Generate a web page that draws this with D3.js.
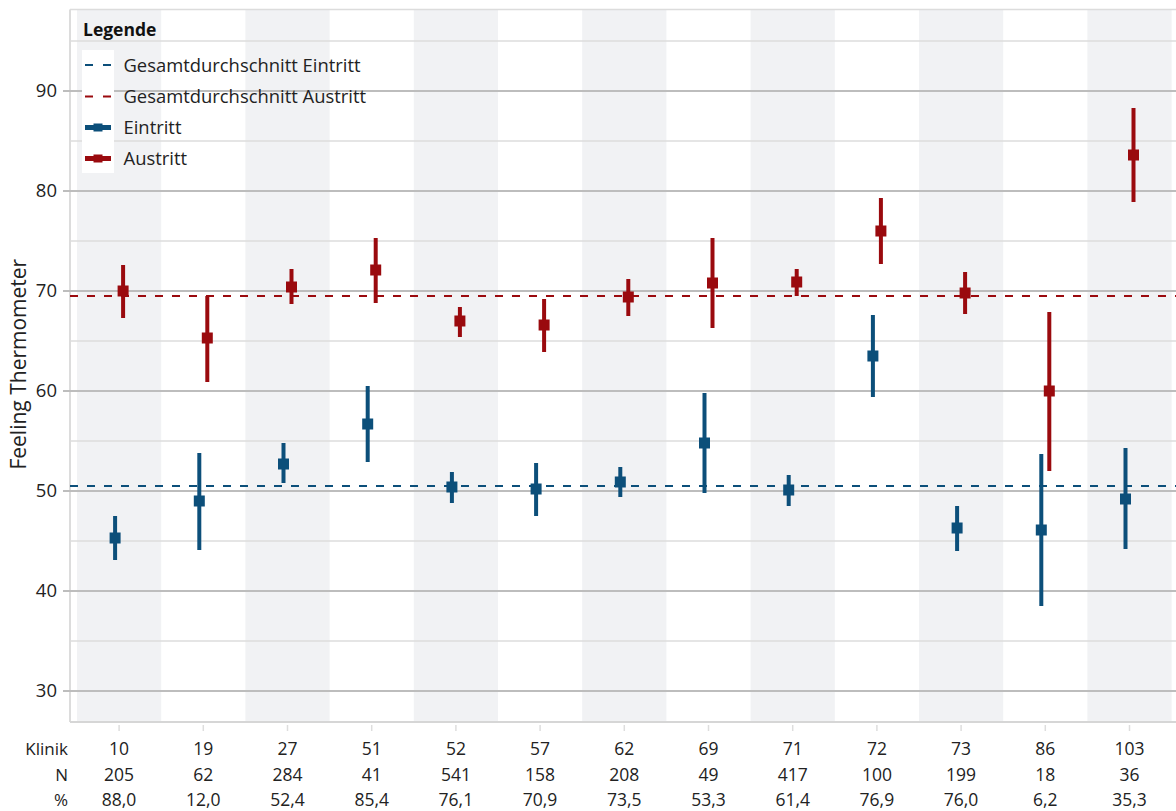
<!DOCTYPE html>
<html><head><meta charset="utf-8">
<script src="https://cdn.jsdelivr.net/npm/d3@7/dist/d3.min.js"></script>
<style>
html,body{margin:0;padding:0;background:#fff;}
svg{display:block;font-family:"Open Sans","Noto Sans",sans-serif;}
</style></head>
<body>
<svg id="chart" width="1176" height="811"></svg>
<script>
const clinics = ["10","19","27","51","52","57","62","69","71","72","73","86","103"];
const nValues = [205,62,284,41,541,158,208,49,417,100,199,18,36];
const pctValues = [88.0,12.0,52.4,85.4,76.1,70.9,73.5,53.3,61.4,76.9,76.0,6.2,35.3];
const eintrittMean = [45.3,49.0,52.7,56.7,50.4,50.2,50.9,54.8,50.1,63.5,46.3,46.1,49.2];
const eintrittLow  = [43.1,44.1,50.8,52.9,48.8,47.5,49.4,49.8,48.5,59.4,44.0,38.5,44.2];
const eintrittHigh = [47.5,53.8,54.8,60.5,51.9,52.8,52.4,59.8,51.6,67.6,48.5,53.7,54.3];
const austrittMean = [70.0,65.3,70.4,72.1,67.0,66.6,69.4,70.8,70.9,76.0,69.8,60.0,83.6];
const austrittLow  = [67.3,60.9,68.7,68.8,65.4,63.9,67.5,66.3,69.5,72.7,67.7,52.0,78.9];
const austrittHigh = [72.6,69.5,72.2,75.3,68.4,69.2,71.2,75.3,72.2,79.3,71.9,67.9,88.3];
const avgEintritt = 50.5;
const avgAustritt = 69.5;
const majorTicks = [30,40,50,60,70,80,90];
const minorTicks = [35,45,55,65,75,85,95];
const legendItems = ["Gesamtdurchschnitt Eintritt","Gesamtdurchschnitt Austritt","Eintritt","Austritt"];

const BLUE = "#0c4f7a", RED = "#9a0a0e";
const W = 1176, H = 811;
const plotL = 70, plotT = 9.5, plotB = 722, plotR = W;

const svg = d3.select("#chart");
const x = d3.scaleBand().domain(clinics).range([77, 1171.6]).padding(0);
const y = d3.scaleLinear().domain([26.9, 98.15]).range([plotB, plotT]);
const locale = d3.formatLocale({decimal: ",", thousands: ".", grouping: [3], currency: ["", "€"]});
const fmtPct = locale.format(".1f");

// alternating bands
svg.append("g").selectAll("rect").data(clinics.filter((d,i)=>i%2===0)).join("rect")
  .attr("x", d=>x(d)).attr("y", plotT).attr("width", x.bandwidth()).attr("height", plotB-plotT)
  .attr("fill", "#f1f2f4");

// borders
svg.append("line").attr("x1", plotL).attr("x2", plotR).attr("y1", plotT).attr("y2", plotT)
  .attr("stroke", "#dcdcdc").attr("stroke-width", 1.5);
svg.append("line").attr("x1", plotL).attr("x2", plotL).attr("y1", plotT).attr("y2", plotB)
  .attr("stroke", "#dcdcdc").attr("stroke-width", 2);

// minor gridlines
svg.append("g").selectAll("line").data(minorTicks).join("line")
  .attr("x1", plotL).attr("x2", plotR).attr("y1", d=>y(d)).attr("y2", d=>y(d))
  .attr("stroke", "#dcdcdc").attr("stroke-width", 1.5);
// major gridlines
svg.append("g").selectAll("line").data(majorTicks).join("line")
  .attr("x1", 63).attr("x2", plotR).attr("y1", d=>y(d)).attr("y2", d=>y(d))
  .attr("stroke", "#bdbdbd").attr("stroke-width", 2);

// bottom axis line
svg.append("line").attr("x1", plotL).attr("x2", plotR).attr("y1", plotB).attr("y2", plotB)
  .attr("stroke", "#d6d6d6").attr("stroke-width", 2);
svg.append("g").selectAll("line").data(clinics).join("line")
  .attr("x1", d=>x(d)+x.bandwidth()/2).attr("x2", d=>x(d)+x.bandwidth()/2)
  .attr("y1", plotB+3).attr("y2", plotB+9).attr("stroke", "#dddddd").attr("stroke-width", 1.5);

// y labels
svg.append("g").selectAll("text").data(majorTicks).join("text")
  .attr("x", 57).attr("y", d=>y(d)).attr("dy", "0.35em").attr("text-anchor", "end")
  .attr("font-size", 18.5).attr("fill", "#222").text(d=>d);

svg.append("text").attr("transform", `translate(25.5,${(261.7+466.7)/2}) rotate(-90)`)
  .attr("text-anchor", "middle").attr("font-size", 21).attr("fill", "#222").text("Feeling Thermometer");

// average dashed lines
[[avgEintritt, BLUE],[avgAustritt, RED]].forEach(([v,c])=>{
  svg.append("line").attr("x1", plotL).attr("x2", plotR).attr("y1", y(v)).attr("y2", y(v))
    .attr("stroke", c).attr("stroke-width", 2).attr("stroke-dasharray", "8,9");
});

// error bars
function drawSeries(mean, lo, hi, color, off){
  const g = svg.append("g");
  const cx = i => x(clinics[i]) + x.bandwidth()/2 + off;
  g.selectAll("line").data(clinics).join("line")
    .attr("x1", (d,i)=>cx(i)).attr("x2", (d,i)=>cx(i))
    .attr("y1", (d,i)=>y(lo[i])).attr("y2", (d,i)=>y(hi[i]))
    .attr("stroke", color).attr("stroke-width", 4);
  g.selectAll("rect").data(clinics).join("rect")
    .attr("x", (d,i)=>cx(i)-5.5).attr("y", (d,i)=>y(mean[i])-5.5)
    .attr("width", 11).attr("height", 11).attr("fill", color);
}
drawSeries(eintrittMean, eintrittLow, eintrittHigh, BLUE, -4);
drawSeries(austrittMean, austrittLow, austrittHigh, RED, 4);

// bottom table
const rows = [["Klinik", clinics], ["N", nValues], ["%", pctValues.map(fmtPct)]];
const rowY = [755, 780.5, 806];
rows.forEach(([label, vals], r)=>{
  svg.append("text").attr("x", 68).attr("y", rowY[r]).attr("text-anchor", "end")
    .attr("font-size", 17).attr("fill", "#222").text(label);
  svg.append("g").selectAll("text").data(vals).join("text")
    .attr("x", (d,i)=>x(clinics[i])+x.bandwidth()/2).attr("y", rowY[r])
    .attr("text-anchor", "middle").attr("font-size", 17.5).attr("fill", "#222").text(d=>d);
});

// legend
const lg = svg.append("g");
lg.append("rect").attr("x", 82).attr("y", 50).attr("width", 32).attr("height", 123).attr("fill", "#fff");
lg.append("text").attr("x", 83).attr("y", 36).attr("font-size", 17.5).attr("font-weight", "bold")
  .attr("fill", "#111").text("Legende");
const legY = [65, 96.5, 127.5, 158.5];
legendItems.forEach((t,i)=>{
  const c = (i%2===0) ? BLUE : RED;
  const yy = legY[i];
  if (i < 2) {
    lg.append("line").attr("x1", 85).attr("x2", 111).attr("y1", yy).attr("y2", yy)
      .attr("stroke", c).attr("stroke-width", 2).attr("stroke-dasharray", "8,10");
  } else {
    lg.append("line").attr("x1", 85).attr("x2", 111).attr("y1", yy).attr("y2", yy)
      .attr("stroke", c).attr("stroke-width", 5);
    lg.append("rect").attr("x", 93.5).attr("y", yy-4).attr("width", 9).attr("height", 8).attr("fill", c);
  }
  lg.append("text").attr("x", 123.5).attr("y", yy).attr("dy", "0.36em").attr("font-size", 18.4)
    .attr("fill", "#222").text(t);
});
</script>
</body></html>
